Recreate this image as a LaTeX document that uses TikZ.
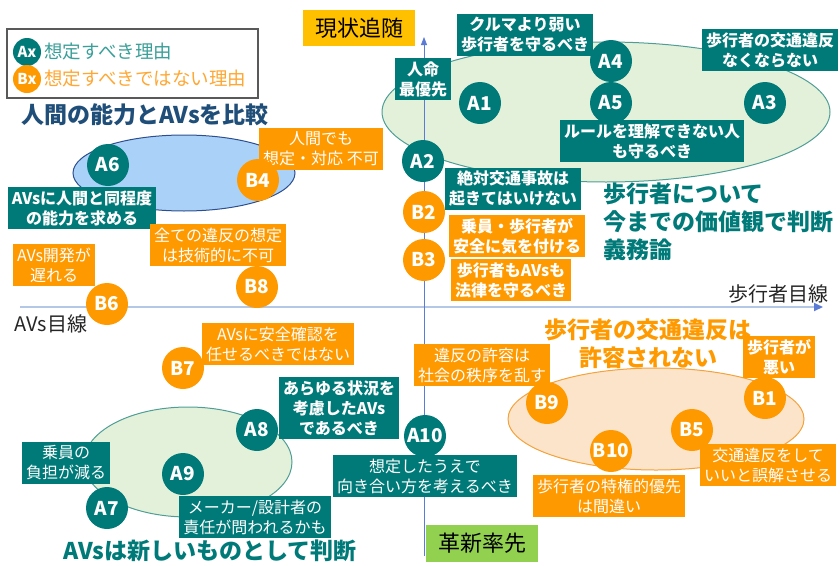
\documentclass[tikz,border=0pt]{standalone}
\usepackage{fontspec}
\setmainfont{Noto Sans CJK JP}
\usetikzlibrary{arrows.meta}
\definecolor{tl}{HTML}{007A78}
\definecolor{og}{HTML}{FF9900}
\definecolor{tllt}{HTML}{3A9F98}
\definecolor{oglt}{HTML}{FFA733}
\definecolor{lgreen}{HTML}{E4F1DA}
\definecolor{gbord}{HTML}{4E9E96}
\definecolor{lblue}{HTML}{AAD2F8}
\definecolor{bbord}{HTML}{2E4F8F}
\definecolor{peach}{HTML}{FCE4CA}
\definecolor{pbord}{HTML}{F4A23A}
\definecolor{ylw}{HTML}{FFC000}
\definecolor{grn}{HTML}{92D050}
\definecolor{dblue}{HTML}{1F4E79}
\definecolor{axv}{HTML}{5B7BD5}
\definecolor{axh}{HTML}{B4C7E7}
\begin{document}
\begin{tikzpicture}[x=1pt,y=-1pt,
  box/.style={align=center, text=white, inner xsep=4pt, inner ysep=3.5pt},
  rg/.style={font=\fontsize{16}{20}\selectfont},
  bd/.style={font=\fontsize{16}{20}\selectfont\bfseries},
  tb/.style={box, fill=tl, rg},
  tbb/.style={box, fill=tl, bd},
  ob/.style={box, fill=og, rg},
  obb/.style={box, fill=og, bd},
  circ/.style={circle, minimum size=42pt, inner sep=0pt, text=white, font=\bfseries\fontsize{19}{19}\selectfont},
  ca/.style={circ, fill=tl},
  cb/.style={circ, fill=og},
  lc/.style={circle, minimum size=28pt, inner sep=0pt, text=white, font=\bfseries\fontsize{15}{15}\selectfont},
  bigtitle/.style={font=\bfseries\fontsize{23}{28}\selectfont, inner sep=0pt}]
\useasboundingbox (0,0) rectangle (840,565);
% ellipses
\draw[draw=gbord, fill=lgreen, line width=1pt] (606,112) ellipse [x radius=224pt, y radius=70pt];
\draw[draw=bbord, fill=lblue, line width=1pt] (184,173) ellipse [x radius=111pt, y radius=38pt];
\draw[draw=gbord, fill=lgreen, line width=1pt] (188,462) ellipse [x radius=104pt, y radius=55pt];
\draw[draw=pbord, fill=peach, line width=1pt] (656,419) ellipse [x radius=148pt, y radius=51pt];
% axes
\coordinate (vb) at (424,556);
\coordinate (vt) at (424,37);
\coordinate (hl) at (20,307);
\coordinate (hr) at (823,307);
\draw[axh, line width=2pt, -{Triangle[length=9pt,width=8pt,color=axv]}] (hl) -- (hr);
\draw[axv, line width=0.8pt, -{Triangle[length=8pt,width=6pt]}] (vb) -- (vt);
% legend
\draw[draw=black!65, line width=1.3pt] (7,29) rectangle (258,98);
\node[lc, fill=tl] (lga) at (27,52) {Ax};
\node[lc, fill=og] (lgb) at (27,79) {Bx};
\node[anchor=west, text=tllt, font=\fontsize{18.5}{18.5}\selectfont, inner sep=0pt] (lgat) at (44,52) {想定すべき理由};
\node[anchor=west, text=oglt, font=\fontsize{18.5}{18.5}\selectfont, inner sep=0pt] (lgbt) at (44,79) {想定すべきではない理由};
% axis labels
\node[fill=ylw, minimum width=112pt, minimum height=36pt, font=\fontsize{22}{22}\selectfont, inner sep=0pt] (gj) at (359,28) {現状追随};
\node[fill=grn, minimum width=112pt, minimum height=37pt, font=\fontsize{22}{22}\selectfont, inner sep=0pt] (kx) at (482,543) {革新率先};
\node[font=\fontsize{20}{20}\selectfont, inner sep=0pt, text=black!85] (avm) at (51,324) {AVs目線};
\node[font=\fontsize{20}{20}\selectfont, inner sep=0pt, text=black!85] (hkm) at (778,294) {歩行者目線};
% titles
\node[bigtitle, text=dblue, font=\bfseries\fontsize{23}{23}\selectfont] (t1) at (145,115) {人間の能力とAVsを比較};
\node[bigtitle, text=tl, align=left, anchor=west] (t2) at (603,222) {歩行者について\\今までの価値観で判断\\義務論};
\node[bigtitle, text=og, align=center] (t3) at (648,344) {歩行者の交通違反は\\許容されない};
\node[bigtitle, text=tl] (t4) at (210,551) {AVsは新しいものとして判断};
% boxes (behind circles)
\node[tbb] (lA1) at (423,79) {人命\\最優先};
\node[tbb] (lA4) at (525,35) {クルマより弱い\\歩行者を守るべき};
\node[tbb] (lA3) at (770,50) {歩行者の交通違反\\なくならない};
\node[tbb] (lA2) at (513,189) {絶対交通事故は\\起きてはいけない};
\node[obb] (lB2) at (517,236) {乗員・歩行者が\\安全に気を付ける};
\node[obb] (lB3) at (511,280) {歩行者もAVsも\\法律を守るべき};
\node[ob] (lB4) at (321,149) {人間でも\\想定・対応 不可};
\node[tbb] (lA6) at (82,208) {AVsに人間と同程度\\の能力を求める};
\node[ob] (lB8) at (218,245) {全ての違反の想定\\は技術的に不可};
\node[ob] (lB6) at (54,265) {AVs開発が\\遅れる};
\node[ob] (lB7) at (278,344) {AVsに安全確認を\\任せるべきではない};
\node[tbb] (lA8) at (339,408) {あらゆる状況を\\考慮したAVs\\であるべき};
\node[tb] (lA7) at (66,463) {乗員の\\負担が減る};
\node[tb] (lA9) at (255,517) {メーカー/設計者の\\責任が問われるかも};
\node[tb] (lA10) at (425,476) {想定したうえで\\向き合い方を考えるべき};
\node[ob] (lB9) at (482,365) {違反の許容は\\社会の秩序を乱す};
\node[obb] (lB1) at (779,357) {歩行者が\\悪い};
\node[ob] (lB5) at (768,465) {交通違反をして\\いいと誤解させる};
\node[ob] (lB10) at (609,496) {歩行者の特権的優先\\は間違い};
% circles
\node[ca] (A1) at (480,103) {A1};
\node[ca] (A4) at (611,61) {A4};
\node[ca] (A5) at (611,103) {A5};
\node[ca] (A3) at (765,103) {A3};
\node[ca] (A2) at (423,161) {A2};
\node[cb] (B2) at (424,212) {B2};
\node[cb] (B3) at (424,260) {B3};
\node[ca] (A6) at (108,165) {A6};
\node[cb] (B4) at (258,180) {B4};
\node[cb] (B8) at (257,287) {B8};
\node[cb] (B6) at (107,304) {B6};
\node[cb] (B7) at (183,368) {B7};
\node[ca] (A8) at (257,430) {A8};
\node[ca] (A9) at (183,474) {A9};
\node[ca] (A7) at (107,508) {A7};
\node[ca] (A10) at (425,436) {A10};
\node[cb] (B9) at (547,403) {B9};
\node[cb] (B1) at (765,398) {B1};
\node[cb] (B5) at (692,430) {B5};
\node[cb] (B10) at (611,451) {B10};
% box drawn over its circle
\node[tbb] (lA5) at (652,141) {ルールを理解できない人\\も守るべき};
\end{tikzpicture}
\end{document}
